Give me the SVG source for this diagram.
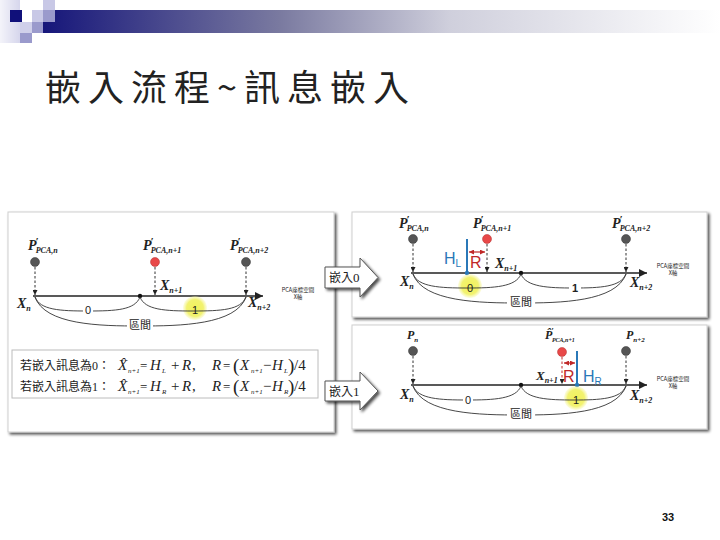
<svg xmlns="http://www.w3.org/2000/svg" width="720" height="540" viewBox="0 0 720 540">
<defs>
<linearGradient id="bar" x1="0" y1="0" x2="1" y2="0">
<stop offset="0" stop-color="#16167a"/>
<stop offset="0.35" stop-color="#7a7aa0"/>
<stop offset="0.6" stop-color="#cfcfdc"/>
<stop offset="1" stop-color="#ffffff"/>
</linearGradient>
<linearGradient id="leftcol" x1="0" y1="0" x2="1" y2="0">
<stop offset="0" stop-color="#f4f4fa"/>
<stop offset="1" stop-color="#d6d6ec"/>
</linearGradient>
<radialGradient id="glow">
<stop offset="0" stop-color="#f2f25a"/>
<stop offset="0.7" stop-color="#f2f270"/>
<stop offset="1" stop-color="#f6f6a0" stop-opacity="0.3"/>
</radialGradient>
<filter id="sh" x="-5%" y="-5%" width="115%" height="120%">
<feGaussianBlur in="SourceAlpha" stdDeviation="1.5"/>
<feOffset dx="2" dy="2"/>
<feComponentTransfer><feFuncA type="linear" slope="0.7"/></feComponentTransfer>
<feMerge><feMergeNode/><feMergeNode in="SourceGraphic"/></feMerge>
</filter>
<marker id="ah" viewBox="0 0 10 10" refX="10" refY="5" markerWidth="8" markerHeight="8" markerUnits="userSpaceOnUse" orient="auto">
<path d="M0,0 L10,5 L0,10 z" fill="#222"/>
</marker>
<marker id="ad" viewBox="0 0 10 10" refX="10" refY="5" markerWidth="5" markerHeight="5" markerUnits="userSpaceOnUse" orient="auto">
<path d="M0,0 L10,5 L0,10 z" fill="#222"/>
</marker>
<marker id="ar" viewBox="0 0 10 10" refX="10" refY="5" markerWidth="5" markerHeight="5" markerUnits="userSpaceOnUse" orient="auto-start-reverse">
<path d="M0,0 L10,5 L0,10 z" fill="#c02828"/>
</marker>
<style>
.m{font-family:"Liberation Serif",serif;font-style:italic;font-weight:bold;fill:#222}
.mn{font-family:"Liberation Serif",serif;font-style:italic;fill:#222}
.cjk{font-family:"Noto Sans CJK TC","Noto Sans CJK SC",sans-serif;fill:#222}
.axis{stroke:#222;stroke-width:1.6;fill:none}
.dash{stroke:#333;stroke-width:1;stroke-dasharray:2.5,2;fill:none}
.arc{stroke:#333;stroke-width:0.9;fill:none}
.ball{fill:#555;stroke:#333;stroke-width:0.5}
.rball{fill:#e84848;stroke:#b03030;stroke-width:0.5}
.lbl{font-family:"Liberation Sans",sans-serif;font-size:11px;fill:#222;text-anchor:middle}
.tiny{font-family:"Noto Sans CJK TC",sans-serif;font-size:5.5px;fill:#222;text-anchor:middle}
.panel{fill:#ffffff;stroke:#cfcfcf;stroke-width:1}
.blue{stroke:#2a78b8;stroke-width:2;fill:none}
.bt{font-family:"Liberation Sans",sans-serif;font-size:16px;fill:#2a78b8}
.rt{font-family:"Liberation Sans",sans-serif;font-size:16px;fill:#c02828}
.rl{stroke:#c02828;stroke-width:1.2;fill:none}
.wb{fill:#ffffff}
</style>
</defs>

<g id="header">
<rect x="0" y="0" width="20" height="43" fill="url(#leftcol)"/>
<rect x="43" y="10" width="677" height="23" fill="url(#bar)"/>
<rect x="10" y="10" width="12" height="12" fill="#10107a"/>
<rect x="32" y="10" width="11" height="12" fill="#c8c8e6"/>
<rect x="43" y="0" width="12" height="10" fill="#c8c8e6"/>
<rect x="43" y="10" width="12" height="12" fill="#9a9acc"/>
<rect x="20" y="22" width="12" height="11" fill="#d0d0ea"/>
<rect x="32" y="22" width="11" height="11" fill="#9a9acc"/>
<rect x="20" y="33" width="12" height="10" fill="#9a9acc"/>
</g>

<text id="title" x="45" y="101" class="cjk" font-size="36" letter-spacing="7" fill="#111">嵌入流程~訊息嵌入</text>

<!-- Left panel -->
<g id="panel-left">
<rect x="8" y="212" width="326" height="220" class="panel" filter="url(#sh)"/>
<text x="28" y="250" class="m" font-size="14">P<tspan font-size="11" dx="-1" dy="-5">′</tspan><tspan font-size="8" dx="-3" dy="8">PCA,n</tspan></text>
<text x="143" y="250" class="m" font-size="14">P<tspan font-size="11" dx="-1" dy="-5">′</tspan><tspan font-size="8" dx="-3" dy="8">PCA,n+1</tspan></text>
<text x="230" y="250" class="m" font-size="14">P<tspan font-size="11" dx="-1" dy="-5">′</tspan><tspan font-size="8" dx="-3" dy="8">PCA,n+2</tspan></text>
<circle cx="35" cy="262" r="4.5" class="ball"/>
<circle cx="155" cy="262" r="4.5" class="rball"/>
<circle cx="246" cy="262" r="4.5" class="ball"/>
<line x1="33" y1="296" x2="263" y2="296" class="axis" marker-end="url(#ah)"/>
<circle cx="140" cy="296" r="2.2" fill="#111"/>
<text x="17" y="308" class="m" font-size="14">X<tspan font-size="8" dy="3">n</tspan></text>
<text x="160" y="290" class="m" font-size="14">X<tspan font-size="8" dy="3">n+1</tspan></text>
<text x="248" y="307" class="m" font-size="14">X<tspan font-size="8" dy="3">n+2</tspan></text>
<text x="298" y="292" class="tiny">PCA座標空間</text>
<text x="298" y="299" class="tiny">X軸</text>
<circle cx="195" cy="308" r="12" fill="url(#glow)"/>
<path d="M35,297 C40,310 60,311 88,311 C116,311 135,310 140,297" class="arc"/>
<path d="M140,297 C145,310 165,311 193,311 C221,311 241,310 246,297" class="arc"/>
<path d="M35,297 C45,325 100,326 140,326 C180,326 236,325 246,297" class="arc"/>
<rect x="83" y="304" width="10" height="12" class="wb"/>
<text x="88" y="314" class="lbl">0</text>
<text x="195" y="314" class="lbl">1</text>
<rect x="127" y="318" width="26" height="14" class="wb"/>
<text x="140" y="329" class="cjk" font-size="11" text-anchor="middle">區間</text>
</g>

<g id="formula">
<rect x="12" y="350" width="306" height="48" fill="#ffffff" stroke="#bcbcbc" stroke-width="1"/>
<text x="20" y="370" class="cjk" font-size="12">若嵌入訊息為<tspan font-family="Liberation Serif">0</tspan>：</text>
<text class="mn" font-size="15"><tspan x="118" y="370">X̂</tspan><tspan x="128" y="373" font-size="7">n+1</tspan><tspan x="140" y="370" font-style="normal" font-size="13">=</tspan><tspan x="150" y="370">H</tspan><tspan x="162" y="373" font-size="7">L</tspan><tspan x="171" y="370" font-style="normal">+</tspan><tspan x="182" y="370">R</tspan><tspan x="192" y="370" font-style="normal">,</tspan><tspan x="212" y="370">R</tspan><tspan x="223" y="370" font-style="normal" font-size="13">=</tspan><tspan x="233" y="372" font-style="normal" font-size="19">(</tspan><tspan x="240" y="370">X</tspan><tspan x="251" y="373" font-size="7">n+1</tspan><tspan x="263" y="370" font-style="normal">−</tspan><tspan x="272" y="370">H</tspan><tspan x="284" y="373" font-size="7">L</tspan><tspan x="288" y="372" font-style="normal" font-size="19">)</tspan><tspan x="294" y="370" font-style="normal">/4</tspan></text>
<text x="20" y="391" class="cjk" font-size="12">若嵌入訊息為<tspan font-family="Liberation Serif">1</tspan>：</text>
<text class="mn" font-size="15"><tspan x="118" y="391">X̂</tspan><tspan x="128" y="394" font-size="7">n+1</tspan><tspan x="140" y="391" font-style="normal" font-size="13">=</tspan><tspan x="150" y="391">H</tspan><tspan x="162" y="394" font-size="7">R</tspan><tspan x="171" y="391" font-style="normal">+</tspan><tspan x="182" y="391">R</tspan><tspan x="192" y="391" font-style="normal">,</tspan><tspan x="212" y="391">R</tspan><tspan x="223" y="391" font-style="normal" font-size="13">=</tspan><tspan x="233" y="393" font-style="normal" font-size="19">(</tspan><tspan x="240" y="391">X</tspan><tspan x="251" y="394" font-size="7">n+1</tspan><tspan x="263" y="391" font-style="normal">−</tspan><tspan x="272" y="391">H</tspan><tspan x="284" y="394" font-size="7">R</tspan><tspan x="288" y="393" font-style="normal" font-size="19">)</tspan><tspan x="294" y="391" font-style="normal">/4</tspan></text>
</g>

<!-- Right top panel -->
<g id="panel-embed0">
<rect x="352" y="212" width="355" height="105" class="panel" filter="url(#sh)"/>
<text x="399" y="228" class="m" font-size="14">P<tspan font-size="11" dx="-1" dy="-5">′</tspan><tspan font-size="8" dx="-3" dy="8">PCA,n</tspan></text>
<text x="473" y="228" class="m" font-size="14">P<tspan font-size="11" dx="-1" dy="-5">′</tspan><tspan font-size="8" dx="-3" dy="8">PCA,n+1</tspan></text>
<text x="612" y="228" class="m" font-size="14">P<tspan font-size="11" dx="-1" dy="-5">′</tspan><tspan font-size="8" dx="-3" dy="8">PCA,n+2</tspan></text>
<circle cx="413" cy="239" r="4.5" class="ball"/>
<circle cx="487" cy="239" r="4.5" class="rball"/>
<circle cx="626" cy="239" r="4.5" class="ball"/>
<line x1="411" y1="273" x2="647" y2="273" class="axis" marker-end="url(#ah)"/>
<circle cx="521" cy="273" r="2.2" fill="#111"/>
<text x="673" y="268" class="tiny">PCA座標空間</text>
<text x="673" y="275" class="tiny">X軸</text>
<line x1="467" y1="239" x2="467" y2="272" class="blue"/>
<circle cx="467" cy="273" r="2.2" fill="#2a78b8"/>
<text x="444" y="264" class="bt">H<tspan font-size="10" dy="3">L</tspan></text>
<line x1="469" y1="252" x2="485" y2="252" class="rl" marker-start="url(#ar)" marker-end="url(#ar)"/>
<text x="470" y="268" class="rt">R</text>
<text x="495" y="268" class="m" font-size="14">X<tspan font-size="8" dy="3">n+1</tspan></text>
<text x="400" y="286" class="m" font-size="14">X<tspan font-size="8" dy="3">n</tspan></text>
<text x="630" y="287" class="m" font-size="14">X<tspan font-size="8" dy="3">n+2</tspan></text>
<circle cx="470" cy="286" r="12" fill="url(#glow)"/>
<path d="M413,274 C418,287 440,288 467,288 C494,288 516,287 521,274" class="arc"/>
<path d="M521,274 C526,287 548,288 574,288 C600,288 621,287 626,274" class="arc"/>
<path d="M413,274 C423,302 480,303 520,303 C560,303 616,302 626,274" class="arc"/>
<text x="470" y="292" class="lbl">0</text>
<rect x="569" y="282" width="12" height="12" class="wb"/>
<text x="575" y="292" class="lbl" font-weight="bold">1</text>
<rect x="507" y="295" width="28" height="14" class="wb"/>
<text x="521" y="306" class="cjk" font-size="11" text-anchor="middle">區間</text>
</g>

<!-- Right bottom panel -->
<g id="panel-embed1">
<rect x="352" y="325" width="355" height="104" class="panel" filter="url(#sh)"/>
<text x="407" y="339" class="m" font-size="12">P<tspan font-size="7" dy="3">n</tspan></text>
<text x="545" y="339" class="m" font-size="12">P̂<tspan font-size="9" dx="-1" dy="-5">′</tspan><tspan font-size="6" dx="-2" dy="8">PCA,n+1</tspan></text>
<text x="626" y="339" class="m" font-size="12">P<tspan font-size="7" dy="3">n+2</tspan></text>
<circle cx="413" cy="351" r="4.5" class="ball"/>
<circle cx="562" cy="352" r="4.5" class="rball"/>
<circle cx="626" cy="351" r="4.5" class="ball"/>
<line x1="411" y1="385" x2="647" y2="385" class="axis" marker-end="url(#ah)"/>
<circle cx="521" cy="385" r="2.2" fill="#111"/>
<text x="673" y="381" class="tiny">PCA座標空間</text>
<text x="673" y="388" class="tiny">X軸</text>
<line x1="577" y1="351" x2="577" y2="384" class="blue"/>
<circle cx="577" cy="385" r="2.2" fill="#2a78b8"/>
<text x="583" y="382" class="bt">H<tspan font-size="10" dy="3">R</tspan></text>
<line x1="564" y1="363" x2="575" y2="363" class="rl" marker-start="url(#ar)" marker-end="url(#ar)"/>
<text x="563" y="382" class="rt">R</text>
<text x="536" y="380" class="m" font-size="13">X<tspan font-size="8" dy="3">n+1</tspan></text>
<text x="400" y="399" class="m" font-size="14">X<tspan font-size="8" dy="3">n</tspan></text>
<text x="630" y="400" class="m" font-size="14">X<tspan font-size="8" dy="3">n+2</tspan></text>
<circle cx="576" cy="398" r="12" fill="url(#glow)"/>
<path d="M413,386 C418,399 440,400 467,400 C494,400 516,399 521,386" class="arc"/>
<path d="M521,386 C526,399 548,400 574,400 C600,400 621,399 626,386" class="arc"/>
<path d="M413,386 C423,414 480,415 520,415 C560,415 616,414 626,386" class="arc"/>
<rect x="463" y="394" width="10" height="12" class="wb"/>
<text x="468" y="404" class="lbl">0</text>
<text x="576" y="404" class="lbl">1</text>
<rect x="507" y="407" width="28" height="14" class="wb"/>
<text x="521" y="418" class="cjk" font-size="11" text-anchor="middle">區間</text>
</g>

<g id="connectors">
<path d="M35,267 V295" class="dash" marker-end="url(#ad)"/>
<path d="M155,267 V295" class="dash" marker-end="url(#ad)"/>
<path d="M246,267 V295" class="dash" marker-end="url(#ad)"/>
<path d="M413,244 V272" class="dash" marker-end="url(#ad)"/>
<path d="M487,244 V272" class="dash" marker-end="url(#ad)"/>
<path d="M626,244 V272" class="dash" marker-end="url(#ad)"/>
<path d="M413,356 V384" class="dash" marker-end="url(#ad)"/>
<path d="M562,357 V384" class="dash" marker-end="url(#ad)" style="stroke:#c02828"/>
<path d="M626,356 V384" class="dash" marker-end="url(#ad)"/>
</g>

<g id="arrow-embed0">
<path d="M325,267 H360 V258 L378,277.5 L360,297 V288 H325 Z" fill="#ffffff" stroke="#555" stroke-width="1" filter="url(#sh)"/>
<text x="329" y="282" class="cjk" font-size="12">嵌入<tspan font-family="Liberation Serif" font-size="13">0</tspan></text>
</g>
<g id="arrow-embed1">
<path d="M325,381 H360 V372 L378,391 L360,410 V401 H325 Z" fill="#ffffff" stroke="#555" stroke-width="1" filter="url(#sh)"/>
<text x="329" y="396" class="cjk" font-size="12">嵌入<tspan font-family="Liberation Serif" font-size="13">1</tspan></text>
</g>

<text id="page" x="662" y="521" font-family="Liberation Sans, sans-serif" font-weight="bold" font-size="11" fill="#111">33</text>
</svg>
